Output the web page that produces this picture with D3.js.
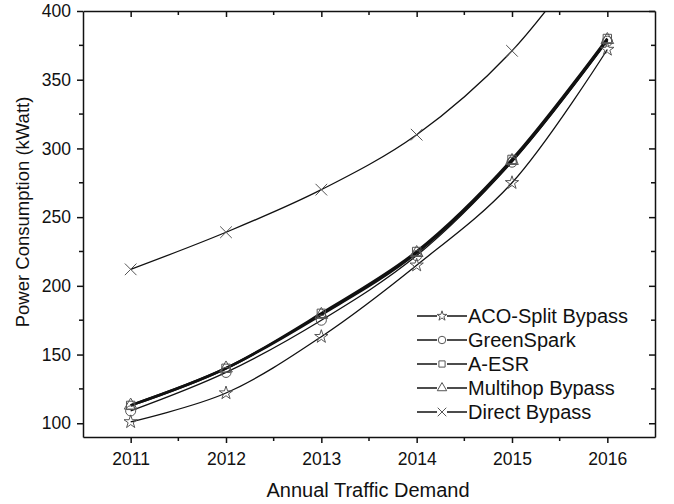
<!DOCTYPE html>
<html>
<head>
<meta charset="utf-8">
<script src="https://cdn.jsdelivr.net/npm/d3@7"></script>
<style>
  html, body { margin: 0; padding: 0; background: #fff; }
  svg { display: block; }
  text { font-family: "Liberation Sans", Arial, sans-serif; fill: #111; }
</style>
</head>
<body>
<svg id="chart" width="674" height="504"></svg>
<script>
// Annual demand years
const years = [2011, 2012, 2013, 2014, 2015, 2016];

// Power consumption per scheme (kWatt)
const acoSplit  = [101, 122, 163, 215, 275, 372];
const greenSpark = [109, 137, 175, 222, 290, 378];
const aEsr      = [113, 140, 180, 225, 292, 380];
const multihop  = [113, 140, 179, 224, 291, 379];
const direct    = [212, 239, 270, 310, 371, 460];

const seriesNames = ["ACO-Split Bypass", "GreenSpark", "A-ESR", "Multihop Bypass", "Direct Bypass"];
const seriesValues = [acoSplit, greenSpark, aEsr, multihop, direct];
const seriesSymbols = ["star", "circle", "square", "triangle", "cross"];
const seriesWidths = [1.3, 1.3, 2.6, 2.6, 1.3];

const yTicks = [100, 150, 200, 250, 300, 350, 400];

const svg = d3.select("#chart");
const frame = { left: 83, top: 11, right: 655, bottom: 437 };

const x = d3.scaleLinear().domain([2010.5, 2016.5]).range([frame.left, frame.right]);
const y = d3.scaleLinear().domain([90, 400]).range([frame.bottom, frame.top]);

svg.append("defs").append("clipPath").attr("id", "plotClip")
  .append("rect")
  .attr("x", frame.left).attr("y", frame.top)
  .attr("width", frame.right - frame.left).attr("height", frame.bottom - frame.top);

// Axes: major ticks outside on bottom/left, mirrored inside on top/right
const minorX = [2011.5, 2012.5, 2013.5, 2014.5, 2015.5];
const minorY = [125, 175, 225, 275, 325, 375];
const fontFam = "Liberation Sans, Arial, sans-serif";

function styleAxis(g) {
  g.selectAll(".tick line").attr("stroke-width", 1.5).attr("stroke", "#111");
  g.select(".domain").attr("stroke-width", 1.5).attr("stroke", "#111");
  g.selectAll(".tick text").attr("font-size", 17.5).attr("font-family", fontFam).attr("fill", "#111");
}

// bottom
const axB = svg.append("g").attr("transform", `translate(0,${frame.bottom})`)
  .call(d3.axisBottom(x).tickValues(years).tickFormat(d3.format("d")).tickSize(6).tickSizeOuter(0).tickPadding(10));
styleAxis(axB);
axB.selectAll(".minor").data(minorX).enter().append("line")
  .attr("x1", d => x(d)).attr("x2", d => x(d)).attr("y1", 0).attr("y2", 4)
  .attr("stroke", "#111").attr("stroke-width", 1.5);

// left
const axL = svg.append("g").attr("transform", `translate(${frame.left},0)`)
  .call(d3.axisLeft(y).tickValues(yTicks).tickSize(6).tickSizeOuter(0).tickPadding(6));
styleAxis(axL);
axL.selectAll(".minor").data(minorY).enter().append("line")
  .attr("y1", d => y(d)).attr("y2", d => y(d)).attr("x1", 0).attr("x2", -4)
  .attr("stroke", "#111").attr("stroke-width", 1.5);

// top
const axT = svg.append("g").attr("transform", `translate(0,${frame.top})`)
  .call(d3.axisTop(x).tickValues(years).tickFormat("").tickSize(-6).tickSizeOuter(0));
styleAxis(axT);
axT.selectAll(".minor").data(minorX).enter().append("line")
  .attr("x1", d => x(d)).attr("x2", d => x(d)).attr("y1", 0).attr("y2", 4)
  .attr("stroke", "#111").attr("stroke-width", 1.5);

// right
const axR = svg.append("g").attr("transform", `translate(${frame.right},0)`)
  .call(d3.axisRight(y).tickValues(yTicks).tickFormat("").tickSize(-6).tickSizeOuter(0));
styleAxis(axR);
axR.selectAll(".minor").data(minorY).enter().append("line")
  .attr("y1", d => y(d)).attr("y2", d => y(d)).attr("x1", 0).attr("x2", -4)
  .attr("stroke", "#111").attr("stroke-width", 1.5);

// Axis titles
svg.append("text")
  .attr("x", 368).attr("y", 497)
  .attr("text-anchor", "middle").attr("font-size", 20)
  .text("Annual Traffic Demand");
svg.append("text")
  .attr("transform", "translate(29,212) rotate(-90)")
  .attr("text-anchor", "middle").attr("font-size", 18.5)
  .text("Power Consumption (kWatt)");

// Marker shapes
const symbolTypes = {
  star: d3.symbolStar, circle: d3.symbolCircle, square: d3.symbolSquare,
  triangle: d3.symbolTriangle, cross: d3.symbolX
};
const symbolSizes = { star: 55, circle: 80, square: 70, triangle: 70, cross: 90 };
function symbolPath(kind, size) {
  return d3.symbol().type(symbolTypes[kind]).size(size)();
}

const line = d3.line()
  .x((d, i) => x(years[i]))
  .y(d => y(d))
  .curve(d3.curveCatmullRom.alpha(0.5));

const plot = svg.append("g").attr("clip-path", "url(#plotClip)");

seriesValues.forEach((vals, k) => {
  plot.append("path")
    .datum(vals)
    .attr("d", line)
    .attr("fill", "none")
    .attr("stroke", "#111")
    .attr("stroke-width", seriesWidths[k]);
});

seriesValues.forEach((vals, k) => {
  plot.selectAll(null).data(vals).enter().append("path")
    .attr("transform", (d, i) => `translate(${x(years[i])},${y(d)})`)
    .attr("d", symbolPath(seriesSymbols[k], symbolSizes[seriesSymbols[k]]))
    .attr("fill", "none")
    .attr("stroke", "#555")
    .attr("stroke-width", 1);
});

// Legend
const legend = svg.append("g");
seriesNames.forEach((name, k) => {
  const ly = 316 + k * 24;
  const g = legend.append("g").attr("transform", `translate(417,${ly})`);
  g.append("line").attr("x1", 0).attr("x2", 50).attr("y1", 0).attr("y2", 0)
    .attr("stroke", "#111").attr("stroke-width", 1.5);
  g.append("rect").attr("x", 20).attr("y", -5).attr("width", 10).attr("height", 10).attr("fill", "#fff");
  g.append("path").attr("transform", "translate(25,0)")
    .attr("d", symbolPath(seriesSymbols[k], symbolSizes[seriesSymbols[k]] * 0.55))
    .attr("fill", "none").attr("stroke", "#555").attr("stroke-width", 1);
  g.append("text").attr("x", 51).attr("y", 7).attr("font-size", 20).text(name);
});
</script>
</body>
</html>
